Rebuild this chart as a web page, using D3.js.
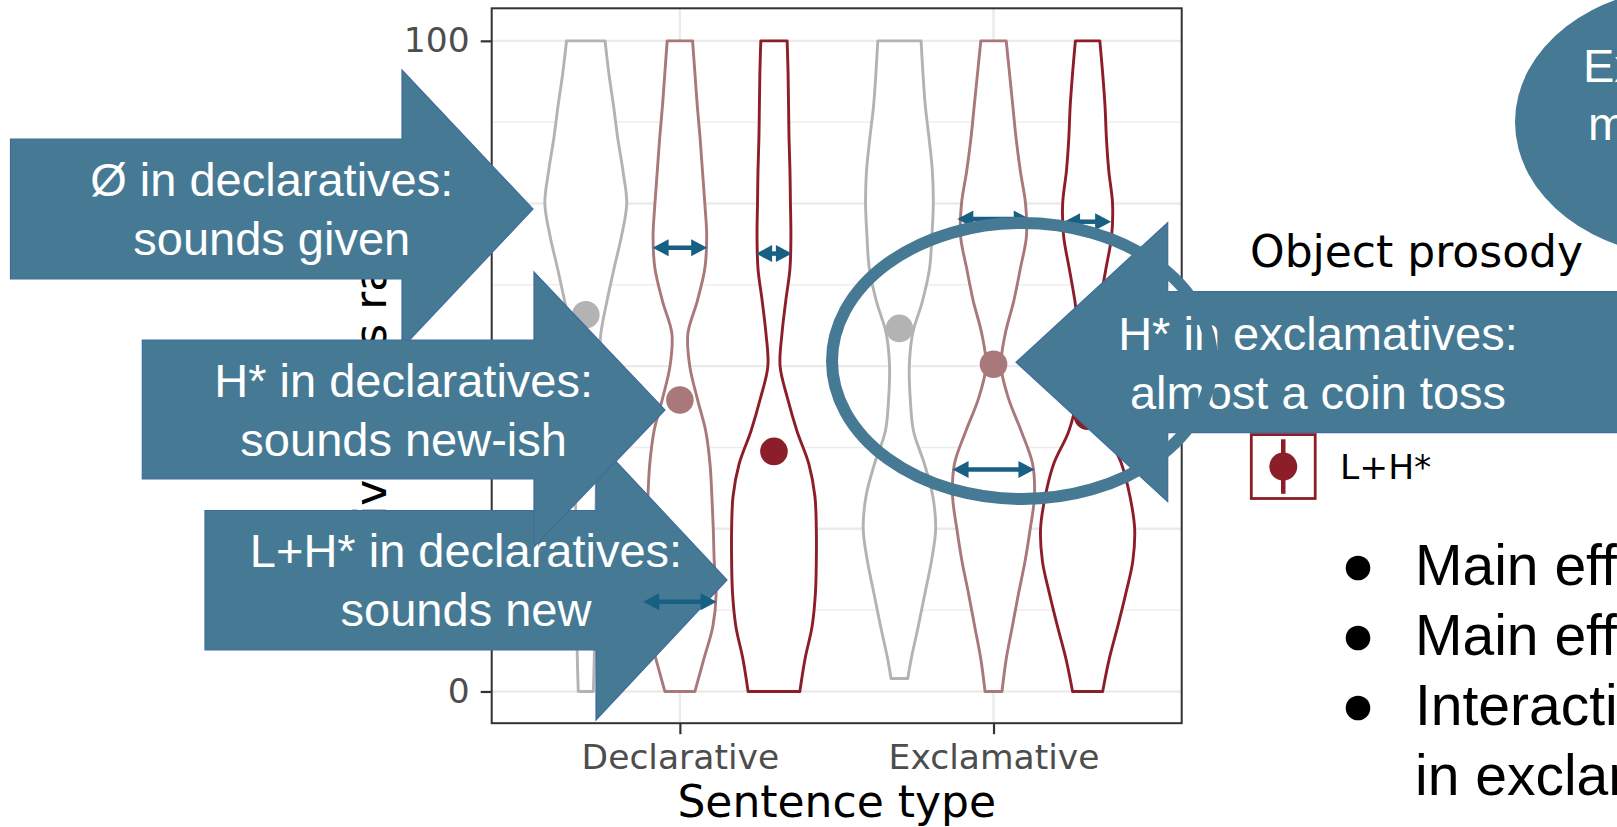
<!DOCTYPE html>
<html><head><meta charset="utf-8">
<script src="https://cdn.jsdelivr.net/npm/d3@7"></script>
<style>html,body{margin:0;padding:0;background:#fff;overflow:hidden}svg{display:block}</style>
</head><body>
<script>
// ---------------- data ----------------
const sentenceTypes = ["Declarative", "Exclamative"];
const prosodies = ["Ø", "H*", "L+H*"];
const prosodyColors = ["#B3B3B3", "#A8787A", "#8B1E28"];
const yTicks = [0, 25, 50, 75, 100];
const yMinorTicks = [12.5, 37.5, 62.5, 87.5];
const ratingLevels = [0,5,10,15,20,25,30,35,40,45,50,55,60,65,70,75,80,85,90,95,100];

const violinSentence = ["Declarative","Declarative","Declarative","Exclamative","Exclamative","Exclamative"];
const violinProsody  = ["Ø","H*","L+H*","Ø","H*","L+H*"];
const violinLow      = [0, 0, 0, 2, 0, 0];
const densDeclZero = [0.16,0.18,0.19,0.20,0.21,0.21,0.22,0.23,0.24,0.27,0.29,0.32,0.45,0.60,0.76,0.87,0.79,0.68,0.59,0.49,0.41];
const densDeclH    = [0.32,0.51,0.70,0.77,0.73,0.71,0.68,0.64,0.55,0.37,0.21,0.17,0.37,0.53,0.57,0.53,0.48,0.43,0.37,0.32,0.27];
const densDeclLH   = [0.55,0.66,0.81,0.88,0.90,0.90,0.87,0.74,0.49,0.29,0.13,0.17,0.25,0.34,0.36,0.35,0.34,0.32,0.31,0.30,0.28];
const densExclZero = [0.13,0.25,0.40,0.54,0.68,0.77,0.71,0.53,0.30,0.23,0.21,0.28,0.49,0.64,0.69,0.72,0.70,0.63,0.55,0.50,0.46];
const densExclH    = [0.18,0.27,0.40,0.53,0.67,0.78,0.87,0.83,0.59,0.32,0.16,0.25,0.43,0.57,0.70,0.68,0.57,0.48,0.41,0.34,0.27];
const densExclLH   = [0.32,0.46,0.64,0.81,0.96,1.00,0.90,0.72,0.40,0.23,0.17,0.19,0.27,0.39,0.51,0.53,0.45,0.40,0.37,0.32,0.26];
const violinDens = [densDeclZero, densDeclH, densDeclLH, densExclZero, densExclH, densExclLH];

const meanRating = [57.9, 44.8, 36.9, 55.8, 50.3, 42.3];
const ciLow      = [56.5, 43.4, 35.5, 54.4, 48.9, 40.9];
const ciHigh     = [59.3, 46.2, 38.3, 57.2, 51.7, 43.7];

// width markers (double arrows) drawn across violins
const markSentence = ["Declarative","Declarative","Exclamative","Exclamative","Exclamative","Declarative"];
const markProsody  = ["H*","L+H*","H*","L+H*","H*","H*"];
const markRating   = [68.2, 67.3, 72.6, 72.2, 34.1, 13.8];
const markHalfDens = [0.58, 0.38, 0.77, 0.50, 0.87, 0.78];

const xTitle = "Sentence type";
const yTitle = "Givenness rating";
const legendTitle = "Object prosody";
const calloutTexts = [
  ["Ø in declaratives:", "sounds given"],
  ["L+H* in declaratives:", "sounds new"],
  ["H* in declaratives:", "sounds new-ish"],
  ["H* in exclamatives:", "almost a coin toss"]
];
const bubbleText = ["Exclamatives:", "more variable"];
const bulletTexts = ["Main effect of sentence type", "Main effect of prosody", "Interaction: H* differs", "in exclamatives"];

// ---------------- drawing ----------------
const W = 1617, H = 827;
const svg = d3.select("body").append("svg").attr("width", W).attr("height", H);
svg.append("rect").attr("width", W).attr("height", H).attr("fill", "#fff");

const panel = {left: 491.7, right: 1181.7, top: 8.3, bottom: 723.2};
const x = d3.scalePoint().domain(sentenceTypes).range([panel.left, panel.right]).padding(0.6);
const step = x.step();
const dodge = d3.scaleBand().domain(prosodies).range([-0.45 * step, 0.45 * step]);
const bw = dodge.bandwidth();
const y = d3.scaleLinear().domain([-5, 105]).range([724, panel.top]);
const wScale = d3.scaleLinear().domain([0, 1]).range([0, bw / 2]);
const color = d3.scaleOrdinal().domain(prosodies).range(prosodyColors);
const centerX = (s, p) => x(s) + dodge(p) + bw / 2;

const CHART_FONT = "'DejaVu Sans', sans-serif";
const SLIDE_FONT = "'Liberation Sans', Arial, sans-serif";

// grid
const grid = svg.append("g");
grid.selectAll(".minor").data(yMinorTicks).join("line")
  .attr("x1", panel.left).attr("x2", panel.right)
  .attr("y1", d => y(d)).attr("y2", d => y(d))
  .attr("stroke", "#EBEBEB").attr("stroke-width", 1.3);
grid.selectAll(".major").data(yTicks).join("line")
  .attr("x1", panel.left).attr("x2", panel.right)
  .attr("y1", d => y(d)).attr("y2", d => y(d))
  .attr("stroke", "#EBEBEB").attr("stroke-width", 2.4);
grid.selectAll(".vmajor").data(sentenceTypes).join("line")
  .attr("x1", d => x(d)).attr("x2", d => x(d))
  .attr("y1", panel.top).attr("y2", panel.bottom)
  .attr("stroke", "#EBEBEB").attr("stroke-width", 2.4);

// violins
const area = d3.area().curve(d3.curveCatmullRom.alpha(0.5));
violinDens.forEach((dens, i) => {
  const s = violinSentence[i], p = violinProsody[i], lo = violinLow[i];
  const c = centerX(s, p);
  let pts = ratingLevels.map((l, k) => [l, dens[k]]).filter(d => d[0] >= lo);
  if (pts[0][0] > lo) {
    const k = ratingLevels.findIndex(l => l > lo);
    const t = (lo - ratingLevels[k - 1]) / (ratingLevels[k] - ratingLevels[k - 1]);
    pts.unshift([lo, dens[k - 1] + t * (dens[k] - dens[k - 1])]);
  }
  area.y(d => y(d[0])).x0(d => c - wScale(d[1])).x1(d => c + wScale(d[1]));
  svg.append("path").attr("d", area(pts))
    .attr("fill", "#fff").attr("stroke", color(p)).attr("stroke-width", 2.9)
    .attr("stroke-linejoin", "round");
});

// point ranges
meanRating.forEach((m, i) => {
  const c = centerX(violinSentence[i], violinProsody[i]);
  svg.append("line").attr("x1", c).attr("x2", c)
    .attr("y1", y(ciLow[i])).attr("y2", y(ciHigh[i]))
    .attr("stroke", color(violinProsody[i])).attr("stroke-width", 4.5);
  svg.append("circle").attr("cx", c).attr("cy", y(m)).attr("r", 13.8)
    .attr("fill", color(violinProsody[i]));
});

// panel border
svg.append("rect").attr("x", panel.left).attr("y", panel.top)
  .attr("width", panel.right - panel.left).attr("height", panel.bottom - panel.top)
  .attr("fill", "none").attr("stroke", "#333333").attr("stroke-width", 2);

// axes
const yAxis = svg.append("g").attr("transform", `translate(${panel.left},0)`)
  .call(d3.axisLeft(y).tickValues(yTicks).tickSize(11).tickPadding(11));
const xAxis = svg.append("g").attr("transform", `translate(0,${panel.bottom})`)
  .call(d3.axisBottom(x).tickSize(11).tickPadding(10));
[yAxis, xAxis].forEach(a => {
  a.select(".domain").remove();
  a.selectAll(".tick line").attr("stroke", "#333333").attr("stroke-width", 2.2);
  a.selectAll(".tick text").attr("fill", "#4D4D4D").style("font-family", CHART_FONT).style("font-size", "34.5px");
});

svg.append("text").attr("x", (panel.left + panel.right) / 2).attr("y", 816.5)
  .attr("text-anchor", "middle").style("font-family", CHART_FONT).style("font-size", "44px")
  .attr("fill", "#000").text(xTitle);
svg.append("text").attr("transform", `translate(385.5,${(panel.top + panel.bottom) / 2}) rotate(-90)`)
  .attr("text-anchor", "middle").style("font-family", CHART_FONT).style("font-size", "44px")
  .attr("fill", "#000").text(yTitle);

// legend
const leg = svg.append("g").attr("transform", "translate(1250,0)");
leg.append("text").attr("x", 0).attr("y", 266.7).style("font-family", CHART_FONT)
  .style("font-size", "44px").attr("fill", "#000").text(legendTitle);
const keySize = 66.5, keyTop = 433.3 - 2 * keySize;
prosodies.forEach((p, i) => {
  const ky = keyTop + i * keySize;
  leg.append("rect").attr("x", 1.3).attr("y", ky + 1.3).attr("width", keySize - 2.6).attr("height", keySize - 2.6)
    .attr("fill", "#fff").attr("stroke", color(p)).attr("stroke-width", 2.8);
  leg.append("line").attr("x1", keySize / 2).attr("x2", keySize / 2)
    .attr("y1", ky + 6).attr("y2", ky + keySize - 6)
    .attr("stroke", color(p)).attr("stroke-width", 4.5);
  leg.append("circle").attr("cx", keySize / 2).attr("cy", ky + keySize / 2).attr("r", 14)
    .attr("fill", color(p));
  leg.append("text").attr("x", 90).attr("y", ky + keySize / 2).attr("dy", "0.36em")
    .style("font-family", CHART_FONT).style("font-size", "34.5px").attr("fill", "#000").text(p);
});

// ---------------- slide overlays ----------------
const BLUE = "#467A94", EDGE = "#3F6C9C";
function rightArrow(g, a, lines) {
  const pts = [[a.x0, a.top], [a.xb, a.top], [a.xb, a.hTop], [a.tip, a.cy], [a.xb, a.hBot], [a.xb, a.bot], [a.x0, a.bot]];
  g.append("path").attr("d", d3.line()(pts) + "Z").attr("fill", BLUE).attr("stroke", EDGE).attr("stroke-width", 1.2);
  const cx = (a.x0 + a.tip) / 2;
  lines.forEach((t, k) => {
    g.append("text").attr("x", cx).attr("y", a.cy - 13 + k * 59)
      .attr("text-anchor", "middle").style("font-family", SLIDE_FONT).style("font-size", "47px")
      .attr("fill", "#fff").text(t);
  });
}
const ov = svg.append("g");
rightArrow(ov, {x0: 10.5, xb: 402, tip: 533, top: 139, bot: 279, hTop: 70, hBot: 348, cy: 209}, calloutTexts[0]);
rightArrow(ov, {x0: 205, xb: 596, tip: 727, top: 510.5, bot: 650, hTop: 440, hBot: 720, cy: 580}, calloutTexts[1]);
rightArrow(ov, {x0: 142.3, xb: 534, tip: 665, top: 340, bot: 479, hTop: 272, hBot: 547, cy: 410}, calloutTexts[2]);
// left-pointing arrow (exclamatives)
(function () {
  const a = {x1: 1625, xb: 1167.7, tip: 1016, top: 291.7, bot: 432.7, hTop: 222.7, hBot: 501.7, cy: 362.2};
  const pts = [[a.x1, a.top], [a.xb, a.top], [a.xb, a.hTop], [a.tip, a.cy], [a.xb, a.hBot], [a.xb, a.bot], [a.x1, a.bot]];
  ov.append("path").attr("d", d3.line()(pts) + "Z").attr("fill", BLUE).attr("stroke", EDGE).attr("stroke-width", 1.2);
  calloutTexts[3].forEach((t, k) => {
    ov.append("text").attr("x", 1318).attr("y", 350 + k * 59).attr("text-anchor", "middle")
      .style("font-family", SLIDE_FONT).style("font-size", "47px").attr("fill", "#fff").text(t);
  });
})();

// width markers (double arrows)
const MARK = "#176083";
markRating.forEach((r, i) => {
  const c = centerX(markSentence[i], markProsody[i]);
  const hw = wScale(markHalfDens[i]);
  const xl = c - hw, xr = c + hw, yy = y(r), hl = 16, hh = 8.5;
  ov.append("line").attr("x1", xl + hl - 1).attr("x2", xr - hl + 1).attr("y1", yy).attr("y2", yy)
    .attr("stroke", MARK).attr("stroke-width", 4.5);
  ov.append("path").attr("d", d3.line()([[xl, yy], [xl + hl, yy - hh], [xl + hl, yy + hh]]) + "Z").attr("fill", MARK);
  ov.append("path").attr("d", d3.line()([[xr, yy], [xr - hl, yy - hh], [xr - hl, yy + hh]]) + "Z").attr("fill", MARK);
});

// ring around exclamative H*
ov.append("ellipse").attr("cx", 1022).attr("cy", 361).attr("rx", 190).attr("ry", 138)
  .attr("fill", "none").attr("stroke", BLUE).attr("stroke-width", 12);

// top-right bubble
ov.append("ellipse").attr("cx", 1690).attr("cy", 122).attr("rx", 175).attr("ry", 135).attr("fill", BLUE);
ov.append("text").attr("x", 1583).attr("y", 82).style("font-family", SLIDE_FONT).style("font-size", "47px")
  .attr("fill", "#fff").text(bubbleText[0]);
ov.append("text").attr("x", 1588).attr("y", 140).style("font-family", SLIDE_FONT).style("font-size", "47px")
  .attr("fill", "#fff").text(bubbleText[1]);

// bullets
bulletTexts.forEach((t, i) => {
  const by = 585 + i * 70;
  if (i < 3) ov.append("circle").attr("cx", 1358).attr("cy", by - 17).attr("r", 12.3).attr("fill", "#000");
  ov.append("text").attr("x", 1415).attr("y", by).style("font-family", SLIDE_FONT)
    .style("font-size", "57px").attr("fill", "#000").text(t);
});
</script>
</body></html>
